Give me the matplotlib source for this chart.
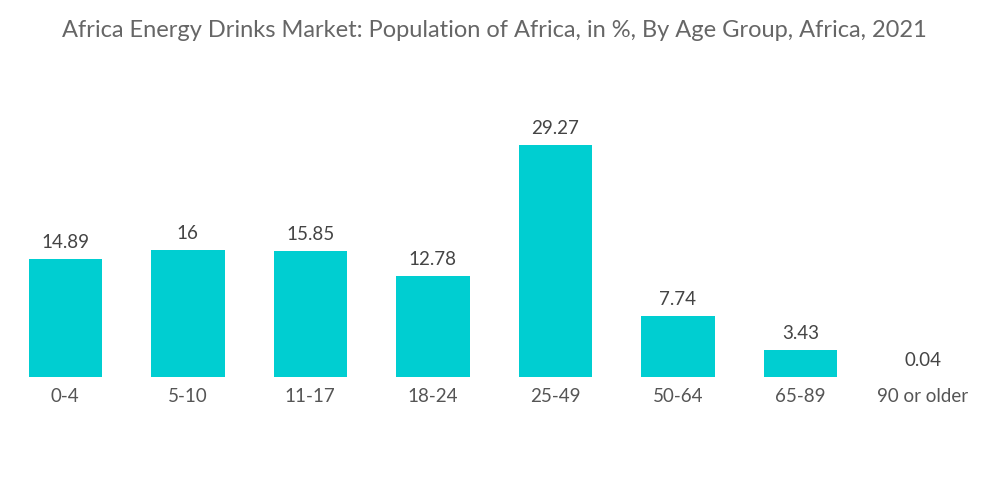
import matplotlib
matplotlib.use("Agg")
import matplotlib.pyplot as plt

groups = ["0-4", "5-10", "11-17", "18-24", "25-49", "50-64", "65-89", "90 or older"]
values = [14.89, 16, 15.85, 12.78, 29.27, 7.74, 3.43, 0.04]
labels = ["14.89", "16", "15.85", "12.78", "29.27", "7.74", "3.43", "0.04"]

plt.rcParams['font.family'] = ['Lato', 'DejaVu Sans']

fig = plt.figure(figsize=(10, 5.04), dpi=100)
ax = fig.add_axes([0.004, 0.252, 0.98, 0.55])

x = range(len(groups))
bars = ax.bar(x, values, width=0.6, color="#00CED1")
for b, lab in zip(bars, labels):
    ax.text(b.get_x() + b.get_width() / 2, b.get_height() + 1.0, lab,
            ha="center", va="bottom", fontsize=13.5, color="#444444")

ax.set_xlim(-0.5, 7.5)
ax.set_ylim(0, 29.27 / 232 * (0.55 * 504))
ax.set_xticks(list(x))
ax.set_xticklabels(groups, fontsize=13.5, color="#555555")
ax.tick_params(axis="x", length=0, pad=8)
ax.set_yticks([])
for s in ax.spines.values():
    s.set_visible(False)

fig.text(0.494, 0.94, "Africa Energy Drinks Market: Population of Africa, in %, By Age Group, Africa, 2021",
         ha="center", va="center", fontsize=17, color="#666666")

fig.savefig("out.png", dpi=100)
